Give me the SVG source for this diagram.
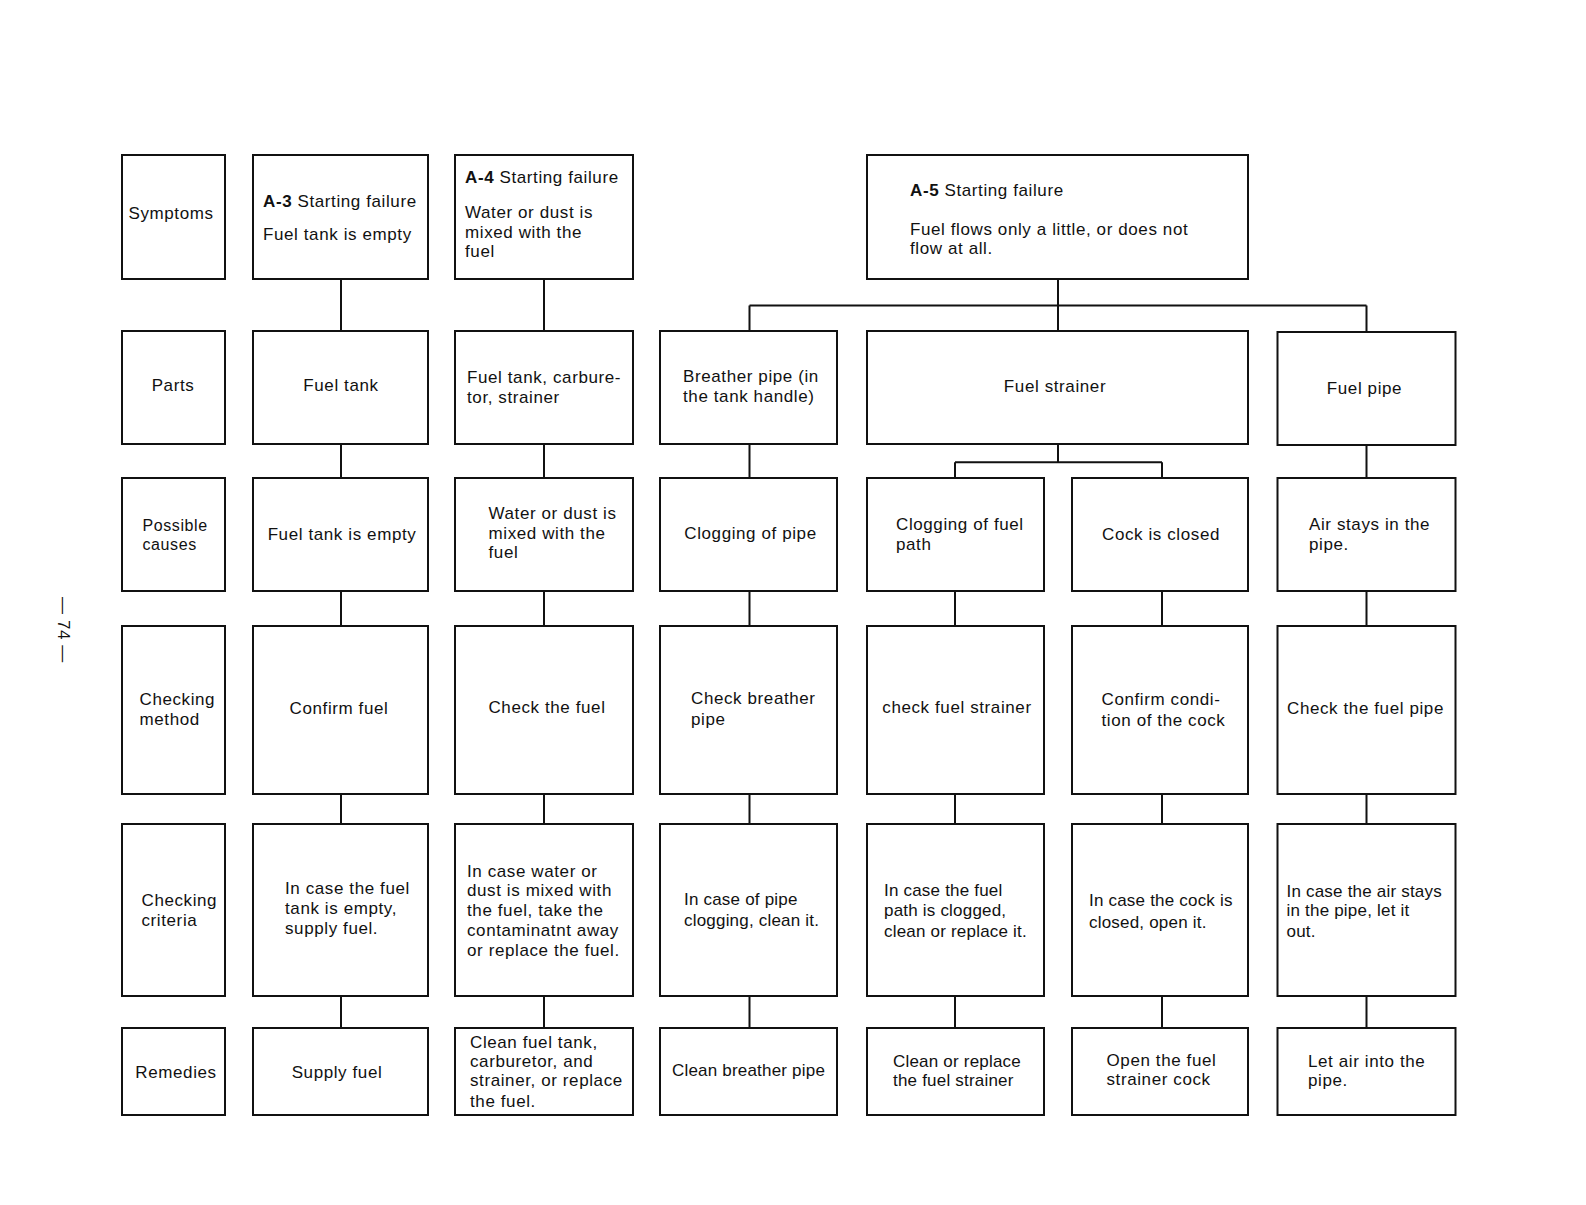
<svg xmlns="http://www.w3.org/2000/svg" width="1586" height="1205" viewBox="0 0 1586 1205">
<style>
.b{fill:#fff;stroke:#111;stroke-width:2}
.c{fill:none;stroke:#111;stroke-width:2}
text{font-family:"Liberation Sans",Arial,sans-serif;font-size:17px;fill:#111;letter-spacing:0.6px}
.m{text-anchor:middle}
.s{font-size:16px}
.k{font-weight:bold}
.n{letter-spacing:0.2px}
</style>
<rect width="1586" height="1205" fill="#fff"/>
<g id="connectors">
<path class="c" d="M341 279V331M341 444V478M341 591V626M341 794V824M341 996V1028"/>
<path class="c" d="M544 279V331M544 444V478M544 591V626M544 794V824M544 996V1028"/>
<path class="c" d="M1058 279V305.5M749.5 305.5H1366.5M749.5 305.5V331M1058 305.5V331M1366.5 305.5V332"/>
<path class="c" d="M1058 444V462.3M955 462.3H1162M955 462.3V478M1162 462.3V478"/>
<path class="c" d="M749.5 444V478M749.5 591V626M749.5 794V824M749.5 996V1028"/>
<path class="c" d="M955 591V626M955 794V824M955 996V1028"/>
<path class="c" d="M1162 591V626M1162 794V824M1162 996V1028"/>
<path class="c" d="M1366.5 445V478M1366.5 591V626M1366.5 794V824M1366.5 996V1028"/>
</g>
<g id="labels">
<g id="lbl-symptoms"><rect class="b" x="122" y="155" width="103" height="124"/><text x="128.5" y="219">Symptoms</text></g>
<g id="lbl-parts"><rect class="b" x="122" y="331" width="103" height="113"/><text class="m" x="173" y="391">Parts</text></g>
<g id="lbl-causes"><rect class="b" x="122" y="478" width="103" height="113"/><text class="s" x="142.5" y="531">Possible</text><text class="s" x="142.5" y="550">causes</text></g>
<g id="lbl-method"><rect class="b" x="122" y="626" width="103" height="168"/><text x="139.5" y="705">Checking</text><text x="139.5" y="725">method</text></g>
<g id="lbl-criteria"><rect class="b" x="122" y="824" width="103" height="172"/><text x="141.5" y="906">Checking</text><text x="141.5" y="925.5">criteria</text></g>
<g id="lbl-remedies"><rect class="b" x="122" y="1028" width="103" height="87"/><text class="m" x="176" y="1078">Remedies</text></g>
</g>
<g id="a3">
<g id="a3-symptom"><rect class="b" x="253" y="155" width="175" height="124"/><text x="263" y="207"><tspan class="k">A-3</tspan> Starting failure</text><text x="263" y="240">Fuel tank is empty</text></g>
<g id="a3-part"><rect class="b" x="253" y="331" width="175" height="113"/><text class="m" x="341" y="390.5">Fuel tank</text></g>
<g id="a3-cause"><rect class="b" x="253" y="478" width="175" height="113"/><text class="m" x="342" y="540">Fuel tank is empty</text></g>
<g id="a3-method"><rect class="b" x="253" y="626" width="175" height="168"/><text class="m" x="339" y="714">Confirm fuel</text></g>
<g id="a3-criteria"><rect class="b" x="253" y="824" width="175" height="172"/><text x="285" y="894">In case the fuel</text><text x="285" y="914">tank is empty,</text><text x="285" y="933.5">supply fuel.</text></g>
<g id="a3-remedy"><rect class="b" x="253" y="1028" width="175" height="87"/><text class="m" x="337" y="1078">Supply fuel</text></g>
</g>
<g id="a4">
<g id="a4-symptom"><rect class="b" x="455" y="155" width="178" height="124"/><text x="465" y="183"><tspan class="k">A-4</tspan> Starting failure</text><text x="465" y="217.5">Water or dust is</text><text x="465" y="237.5">mixed with the</text><text x="465" y="257">fuel</text></g>
<g id="a4-part"><rect class="b" x="455" y="331" width="178" height="113"/><text x="467" y="383">Fuel tank, carbure-</text><text x="467" y="402.5">tor, strainer</text></g>
<g id="a4-cause"><rect class="b" x="455" y="478" width="178" height="113"/><text x="488.5" y="519">Water or dust is</text><text x="488.5" y="539">mixed with the</text><text x="488.5" y="558">fuel</text></g>
<g id="a4-method"><rect class="b" x="455" y="626" width="178" height="168"/><text class="m" x="547" y="713">Check the fuel</text></g>
<g id="a4-criteria"><rect class="b" x="455" y="824" width="178" height="172"/><text x="467" y="877">In case water or</text><text x="467" y="896">dust is mixed with</text><text x="467" y="916">the fuel, take the</text><text x="467" y="935.5">contaminatnt away</text><text x="467" y="956">or replace the fuel.</text></g>
<g id="a4-remedy"><rect class="b" x="455" y="1028" width="178" height="87"/><text x="470" y="1048">Clean fuel tank,</text><text x="470" y="1067">carburetor, and</text><text x="470" y="1086">strainer, or replace</text><text x="470" y="1106.5">the fuel.</text></g>
</g>
<g id="a5">
<g id="a5-symptom"><rect class="b" x="867" y="155" width="381" height="124"/><text x="910" y="196"><tspan class="k">A-5</tspan> Starting failure</text><text x="910" y="234.5">Fuel flows only a little, or does not</text><text x="910" y="254">flow at all.</text></g>
<g id="a5-breather"><rect class="b" x="660" y="331" width="177" height="113"/><text x="683" y="382">Breather pipe (in</text><text x="683" y="401.5">the tank handle)</text></g>
<g id="a5-strainer"><rect class="b" x="867" y="331" width="381" height="113"/><text class="m" x="1055" y="391.5">Fuel strainer</text></g>
<g id="a5-pipe"><rect class="b" x="1277.5" y="332" width="178" height="113"/><text class="m" x="1364.5" y="393.5">Fuel pipe</text></g>
<g id="a5-clog-pipe"><rect class="b" x="660" y="478" width="177" height="113"/><text class="m" x="750.5" y="539">Clogging of pipe</text></g>
<g id="a5-clog-path"><rect class="b" x="867" y="478" width="177" height="113"/><text x="896" y="530">Clogging of fuel</text><text x="896" y="550">path</text></g>
<g id="a5-cock"><rect class="b" x="1072" y="478" width="176" height="113"/><text class="m" x="1161" y="540">Cock is closed</text></g>
<g id="a5-air"><rect class="b" x="1277.5" y="478" width="178" height="113"/><text x="1309" y="530">Air stays in the</text><text x="1309" y="550">pipe.</text></g>
<g id="a5-m1"><rect class="b" x="660" y="626" width="177" height="168"/><text x="691" y="704">Check breather</text><text x="691" y="725">pipe</text></g>
<g id="a5-m2"><rect class="b" x="867" y="626" width="177" height="168"/><text class="m" x="957" y="713">check fuel strainer</text></g>
<g id="a5-m3"><rect class="b" x="1072" y="626" width="176" height="168"/><text x="1101.5" y="705">Confirm condi-</text><text x="1101.5" y="726">tion of the cock</text></g>
<g id="a5-m4"><rect class="b" x="1277.5" y="626" width="178" height="168"/><text class="m" x="1365.5" y="714">Check the fuel pipe</text></g>
<g id="a5-c1"><rect class="b" x="660" y="824" width="177" height="172"/><text class="n" x="684" y="905">In case of pipe</text><text class="n" x="684" y="925.5">clogging, clean it.</text></g>
<g id="a5-c2"><rect class="b" x="867" y="824" width="177" height="172"/><text class="n" x="884" y="896">In case the fuel</text><text class="n" x="884" y="916">path is clogged,</text><text class="n" x="884" y="936.5">clean or replace it.</text></g>
<g id="a5-c3"><rect class="b" x="1072" y="824" width="176" height="172"/><text class="n" x="1089" y="906">In case the cock is</text><text class="n" x="1089" y="927.5">closed, open it.</text></g>
<g id="a5-c4"><rect class="b" x="1277.5" y="824" width="178" height="172"/><text class="n" x="1286.5" y="897">In case the air stays</text><text class="n" x="1286.5" y="916">in the pipe, let it</text><text class="n" x="1286.5" y="936.5">out.</text></g>
<g id="a5-r1"><rect class="b" x="660" y="1028" width="177" height="87"/><text class="m n" x="748.5" y="1076">Clean breather pipe</text></g>
<g id="a5-r2"><rect class="b" x="867" y="1028" width="177" height="87"/><text class="n" x="893" y="1067">Clean or replace</text><text class="n" x="893" y="1086">the fuel strainer</text></g>
<g id="a5-r3"><rect class="b" x="1072" y="1028" width="176" height="87"/><text x="1106.5" y="1066">Open the fuel</text><text x="1106.5" y="1085">strainer cock</text></g>
<g id="a5-r4"><rect class="b" x="1277.5" y="1028" width="178" height="87"/><text x="1308" y="1067">Let air into the</text><text x="1308" y="1086">pipe.</text></g>
</g>
<text class="m" transform="translate(58 630) rotate(90)">— 74 —</text>
</svg>
